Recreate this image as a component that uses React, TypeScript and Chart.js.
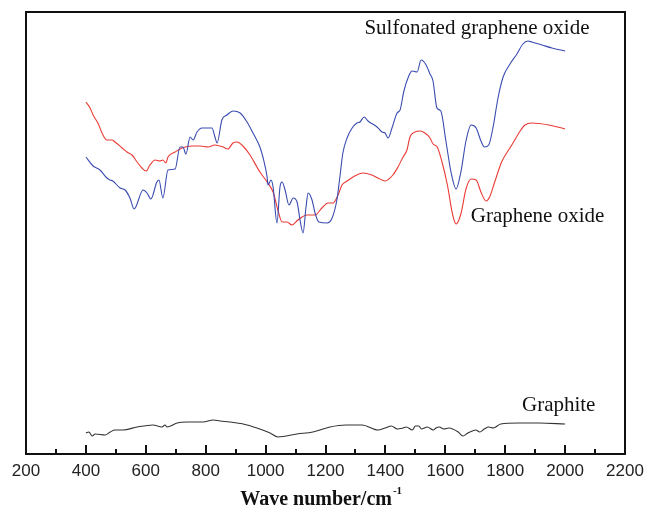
import React, { useEffect, useRef } from "react";
import { Chart, registerables } from "chart.js";

Chart.register(...registerables);

// Sulfonated graphene oxide (blue)
const sgoWave = [400,424,447,470,480,490,514,531,547,561,591,604,617,637,644,657,674,698,714,724,734,748,758,771,788,821,831,838,854,871,891,915,938,958,981,991,1005,1008,1018,1025,1038,1048,1055,1065,1078,1092,1105,1115,1125,1135,1142,1155,1165,1178,1205,1222,1238,1248,1258,1272,1289,1305,1315,1329,1342,1372,1389,1399,1409,1422,1439,1449,1456,1461,1478,1489,1506,1519,1534,1549,1559,1572,1585,1602,1619,1636,1652,1669,1686,1703,1719,1731,1745,1759,1776,1793,1816,1839,1859,1876,1889,1923,1956,2000];
const sgoValue = [297,288,284,276,274,273,266,264,256,245,264,261,255,272,274,256,284,285,307,307,300,317,314,322,326,326,317,311,334,339,343,341,332,321,307,297,277,269,274,267,231,267,272,264,249,256,252,234,221,247,261,254,241,232,231,236,254,277,301,316,326,331,332,337,333,327,322,321,316,326,341,344,354,362,378,383,382,394,390,380,373,346,343,313,282,265,282,313,329,326,313,307,309,326,356,377,390,400,410,413,412,409,406,403];

// Graphene oxide (red)
const goWave = [400,414,424,440,457,470,487,497,521,537,554,571,587,601,614,631,647,657,667,674,698,721,754,781,808,831,858,874,891,905,921,948,971,981,1005,1025,1041,1055,1071,1088,1108,1138,1165,1188,1208,1225,1242,1255,1272,1292,1325,1355,1375,1399,1425,1442,1459,1472,1482,1499,1516,1532,1549,1559,1573,1589,1607,1624,1636,1652,1669,1686,1703,1719,1736,1748,1765,1788,1822,1850,1866,1889,1946,2000];
const goValue = [352,346,339,331,319,314,314,312,306,302,299,292,286,283,289,294,293,294,291,297,302,306,308,308,307,309,307,305,311,312,309,299,287,282,272,262,244,232,232,229,234,239,239,246,251,251,259,269,273,277,281,279,276,273,279,287,297,304,317,322,323,321,316,310,307,292,269,240,230,240,265,275,274,262,253,257,272,292,309,323,329,331,329,325];

// Graphite (black)
const gWave = [400,410,421,431,464,481,497,524,571,624,654,664,671,704,738,791,825,848,881,925,971,1015,1041,1105,1158,1215,1268,1322,1375,1399,1420,1440,1459,1470,1490,1500,1512,1520,1540,1560,1569,1580,1595,1612,1643,1659,1675,1690,1702,1715,1730,1745,1760,1785,1845,1913,2000];
const gValue = [21,22,18,20,19,22,24,24,27,29,27,29,27,31,32,32,34,33,32,30,26,21,17,20,22,27,29,29,24,26,28,25,26,27,24,28,28,25,27,24,26,27,25,26,22,18,21,23,24,22,25,27,26,30,31,31,30];

const seriesLabels = ["Sulfonated graphene oxide", "Graphene oxide", "Graphite"];
const xTicks = [200,400,600,800,1000,1200,1400,1600,1800,2000,2200];
const axisTitle = "Wave number/cm";
const axisTitleSup = "-1";

const toPoints = (xs: number[], ys: number[]) => xs.map((x, i) => ({ x, y: ys[i] }));

const decorPlugin = {
  id: "decor",
  afterDraw(chart: any) {
    const { ctx, chartArea: a, scales } = chart;
    const xs = scales.x;
    const ys = scales.y;
    ctx.save();
    ctx.strokeStyle = "#111";
    ctx.lineWidth = 2;
    for (let v = xTicks[0]; v <= xTicks[xTicks.length - 1]; v += 100) {
      const px = Math.round(xs.getPixelForValue(v));
      const len = v % 200 === 0 ? 9 : 5;
      ctx.beginPath();
      ctx.moveTo(px, a.bottom);
      ctx.lineTo(px, a.bottom - len);
      ctx.stroke();
    }
    ctx.lineWidth = 2;
    ctx.strokeRect(a.left, a.top, a.right - a.left, a.bottom - a.top);

    ctx.fillStyle = "#111";
    ctx.textAlign = "left";
    ctx.textBaseline = "middle";
    ctx.font = "21px 'Liberation Serif', 'Times New Roman', serif";
    const notes: [string, number, number][] = [
      [seriesLabels[0], 1330, 426],
      [seriesLabels[1], 1685, 238],
      [seriesLabels[2], 1856, 49],
    ];
    notes.forEach(([t, vx, vy]) => {
      ctx.fillText(t, xs.getPixelForValue(vx), ys.getPixelForValue(vy));
    });

    ctx.font = "bold 20px 'Liberation Serif', 'Times New Roman', serif";
    const w1 = ctx.measureText(axisTitle).width;
    ctx.font = "bold 11px 'Liberation Serif', 'Times New Roman', serif";
    const w2 = ctx.measureText(axisTitleSup).width;
    const cx = xs.getPixelForValue(1184);
    const start = cx - (w1 + w2) / 2;
    const baseY = 505;
    ctx.textBaseline = "alphabetic";
    ctx.font = "bold 20px 'Liberation Serif', 'Times New Roman', serif";
    ctx.fillText(axisTitle, start, baseY);
    ctx.font = "bold 11px 'Liberation Serif', 'Times New Roman', serif";
    ctx.fillText(axisTitleSup, start + w1 + 1, baseY - 11);
    ctx.restore();
  },
};

export default function App() {
  const ref = useRef<HTMLCanvasElement | null>(null);
  useEffect(() => {
    document.body.style.margin = "0";
    if (!ref.current) return;
    const lineOpts = { borderWidth: 1.1, pointRadius: 0, tension: 0.35, cubicInterpolationMode: "monotone" as const };
    const chart = new Chart(ref.current, {
      type: "line",
      data: {
        datasets: [
          { label: seriesLabels[0], data: toPoints(sgoWave, sgoValue), borderColor: "#3a4cb0", ...lineOpts },
          { label: seriesLabels[1], data: toPoints(goWave, goValue), borderColor: "#ea3a33", ...lineOpts },
          { label: seriesLabels[2], data: toPoints(gWave, gValue), borderColor: "#333333", ...lineOpts },
        ],
      },
      options: {
        animation: false,
        responsive: false,
        maintainAspectRatio: false,
        layout: { padding: { left: 26, right: 21, top: 12, bottom: 0 } },
        plugins: { legend: { display: false }, tooltip: { enabled: false } },
        scales: {
          x: {
            type: "linear",
            min: 200,
            max: 2200,
            afterFit: (s: any) => { s.height = 63; s.paddingLeft = 0; s.paddingRight = 0; },
            afterBuildTicks: (s: any) => { s.ticks = xTicks.map((v) => ({ value: v })); },
            grid: { display: false, drawTicks: false },
            border: { display: false },
            ticks: {
              autoSkip: false,
              maxRotation: 0,
              padding: 7,
              color: "#222",
              callback: (v: any) => String(v),
              font: { family: "'Liberation Sans', Arial, sans-serif", size: 17 },
            },
          },
          y: { display: false, min: 0, max: 442 },
        },
      },
      plugins: [decorPlugin],
    });
    return () => chart.destroy();
  }, []);
  return (
    <div style={{ width: 646, height: 517 }}>
      <canvas ref={ref} width={646} height={517} style={{ display: "block" }} />
    </div>
  );
}
